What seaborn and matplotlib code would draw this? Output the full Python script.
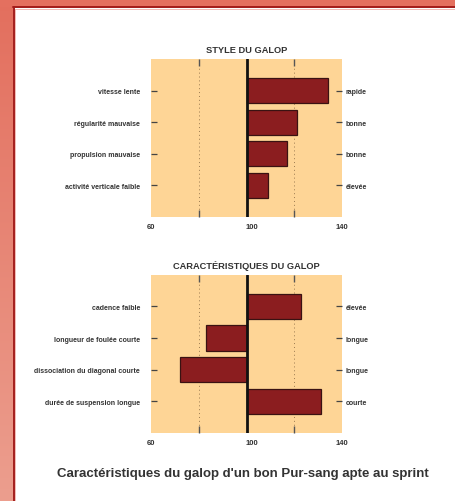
import matplotlib
matplotlib.use("Agg")
import matplotlib.pyplot as plt
import matplotlib.transforms as mtransforms
import seaborn as sns
import numpy as np
import pandas as pd

# data
style_left = ["vitesse lente", "régularité mauvaise", "propulsion mauvaise",
              "activité verticale faible"]
style_right = ["rapide", "bonne", "bonne", "élevée"]
style_values = [134, 121, 117, 109]

carac_left = ["cadence faible", "longueur de foulée courte",
              "dissociation du diagonal courte", "durée de suspension longue"]
carac_right = ["élevée", "longue", "longue", "courte"]
carac_values = [123, 83, 72, 131]

baseline = 100
x_ticks = [60, 100, 140]
x_grid = [80, 120]

sns.set_theme(style="white")
plt.rcParams["font.family"] = ["Liberation Sans", "DejaVu Sans"]
plt.rcParams["font.weight"] = "bold"

TXT = "#333333"
BG = "#FED596"
BAR = "#8B1D1F"
EDGE = "#3A1212"

fig = plt.figure(figsize=(4.55, 5.02), dpi=100)

# page frame
bg = fig.add_axes([0, 0, 1, 1], zorder=-10)
bg.set_xlim(0, 455)
bg.set_ylim(502, 0)
bg.axis("off")
grad = np.linspace(0, 1, 200).reshape(-1, 1)
cmap = matplotlib.colors.LinearSegmentedColormap.from_list("edge", ["#E36F5E", "#EC9E8E"])
bg.imshow(grad, cmap=cmap, extent=[0, 13, 502, 0], aspect="auto")
bg.add_patch(plt.Rectangle((0, 0), 455, 8, color="#E4705F", lw=0))
bg.plot([13.7, 13.7], [8, 502], color="#A31C1A", lw=1.4)
bg.plot([13, 455], [8.2, 8.2], color="#A31C1A", lw=1.4)
bg.plot([15, 15], [9.5, 502], color="#F0B0A8", lw=0.6)
bg.plot([14.5, 455], [9.6, 9.6], color="#F0B0A8", lw=0.6)


def panel(rect, title, left, right, values):
    ax = fig.add_axes(rect)
    df = pd.DataFrame({"label": left, "delta": [v - baseline for v in values]})
    sns.barplot(data=df, x="delta", y="label", orient="h", ax=ax, color=BAR,
                width=0.8, edgecolor=EDGE, linewidth=0.9, saturation=1)
    ax.set_facecolor(BG)
    ax.set_xlim(x_ticks[0] - baseline, x_ticks[-1] - baseline)
    ax.set_ylim(len(left), -1)
    for s in ax.spines.values():
        s.set_visible(False)
    ax.axvline(0, color="#111111", lw=2, zorder=5)
    for g in x_grid:
        ax.axvline(g - baseline, color="#9A7A50", lw=0.7, ls=(0, (1, 3)), zorder=0.5)
    ax.set_xticks([t - baseline for t in x_ticks])
    ax.set_xticklabels([str(t) for t in x_ticks])
    ax.set_xticks([g - baseline for g in x_grid], minor=True)
    ax.tick_params(axis="x", which="major", length=0, pad=4, labelsize=5.5,
                   labelcolor=TXT)
    ax.tick_params(axis="x", which="minor", direction="in", length=5, width=1,
                   color="#555555", top=True, bottom=True)
    ax.tick_params(axis="y", direction="in", length=4, width=0.9, color="#444444",
                   pad=8, labelsize=5, labelcolor=TXT, left=True)
    shift = mtransforms.ScaledTranslation(5 / 100, 0, fig.dpi_scale_trans)
    mid = ax.get_xticklabels()[1]
    mid.set_transform(mid.get_transform() + shift)
    ax.set_xlabel("")
    ax.set_ylabel("")
    ax.set_title(title, fontsize=6.7, color=TXT, fontweight="bold", pad=5)

    tw = ax.twinx()
    tw.set_ylim(ax.get_ylim())
    tw.set_yticks(range(len(right)))
    tw.set_yticklabels(right)
    tw.tick_params(axis="y", direction="in", length=4, width=0.9, color="#444444",
                   pad=2.5, labelsize=5, labelcolor=TXT)
    for s in tw.spines.values():
        s.set_visible(False)
    tw.grid(False)
    ax.grid(False)
    return ax


panel([0.332, 0.5657, 0.4198, 0.3148], "STYLE DU GALOP",
      style_left, style_right, style_values)
panel([0.332, 0.1355, 0.4198, 0.3153], "CARACTÉRISTIQUES DU GALOP",
      carac_left, carac_right, carac_values)

fig.text(243 / 455, 1 - 474 / 502, "Caractéristiques du galop d'un bon Pur-sang apte au sprint",
         ha="center", va="center", fontsize=9.5, fontweight="bold", color=TXT)

fig.savefig("out.png", dpi=100)
